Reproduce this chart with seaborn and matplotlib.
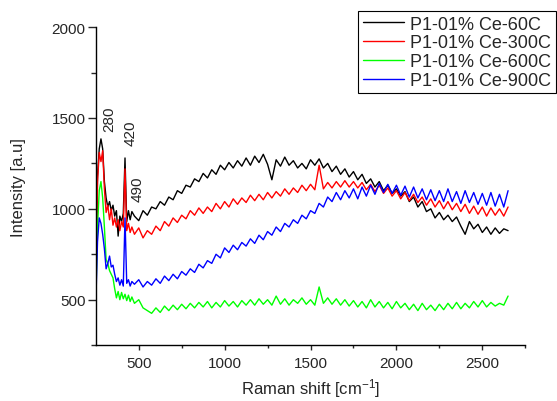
import matplotlib
matplotlib.use("Agg")
import matplotlib.pyplot as plt
import seaborn as sns
import pandas as pd

# Raman shift grid (cm-1): finer near the low-wavenumber peaks
shift = [250, 260, 270, 280, 290, 300, 310, 320, 330, 340, 350,
         360, 370, 380, 390, 400, 410, 420, 430, 440, 450, 460,
         475, 500, 525, 550, 575, 600, 625, 650,
         675, 700, 725, 750, 775, 800, 825, 850,
         875, 900, 925, 950, 975, 1000, 1025, 1050,
         1075, 1100, 1125, 1150, 1175, 1200, 1225, 1250,
         1275, 1300, 1325, 1350, 1375, 1400, 1425, 1450,
         1475, 1500, 1525, 1550, 1575, 1600, 1625, 1650,
         1675, 1700, 1725, 1750, 1775, 1800, 1825, 1850,
         1875, 1900, 1925, 1950, 1975, 2000, 2025, 2050,
         2075, 2100, 2125, 2150, 2175, 2200, 2225, 2250,
         2275, 2300, 2325, 2350, 2375, 2400, 2425, 2450,
         2475, 2500, 2525, 2550, 2575, 2600, 2625, 2650]

ce_60 = [560, 1180, 1330, 1385, 1330, 1150, 1060, 1010, 1040, 990, 1020,
         960, 990, 850, 960, 930, 975, 1280, 930, 990, 940, 985,
         960, 935, 990, 965, 1010, 1000, 1040, 1020,
         1065, 1050, 1100, 1085, 1130, 1120, 1165, 1150,
         1195, 1170, 1215, 1190, 1240, 1215, 1255, 1225,
         1265, 1235, 1280, 1240, 1290, 1255, 1300, 1245,
         1160, 1270, 1235, 1285, 1240, 1265, 1225, 1250,
         1220, 1270, 1240, 1275, 1225, 1250, 1205, 1235,
         1190, 1220, 1175, 1205, 1160, 1190, 1140, 1165,
         1120, 1150, 1100, 1130, 1085, 1110, 1070, 1095,
         1040, 1065, 1010, 1040, 985, 1000, 950, 980,
         940, 965, 930, 955, 905, 860, 930, 890,
         915, 870, 900, 860, 895, 865, 890, 880]

ce_300 = [540, 1150, 1310, 1260, 1320, 1110, 980, 1020, 940, 1000, 910,
          950, 900, 940, 880, 930, 900, 1220, 880, 920, 870, 900,
          860, 895, 840, 880, 860, 905, 880, 930,
          905, 950, 925, 965, 945, 990, 965, 1005,
          975, 1010, 985, 1030, 1000, 1040, 1010, 1055,
          1025, 1060, 1035, 1075, 1045, 1080, 1050, 1090,
          1060, 1095, 1070, 1110, 1080, 1115, 1090, 1130,
          1100, 1135, 1105, 1240, 1110, 1145, 1115, 1150,
          1120, 1155, 1120, 1150, 1115, 1145, 1105, 1135,
          1095, 1130, 1085, 1115, 1070, 1100, 1055, 1090,
          1045, 1080, 1035, 1065, 1020, 1055, 1010, 1045,
          1000, 1040, 995, 1030, 985, 1025, 975, 1015,
          970, 1010, 960, 1005, 965, 1000, 960, 1010]

ce_600 = [500, 900, 1100, 1150, 1060, 900, 720, 700, 660, 640, 620,
          560, 510, 545, 500, 540, 505, 530, 495, 525, 490, 515,
          480, 500, 455, 440, 425, 455, 430, 465,
          440, 470, 445, 475, 450, 480, 455, 485,
          460, 490, 455, 485, 460, 495, 465, 490,
          460, 495, 470, 500, 470, 505, 475, 500,
          470, 520, 475, 505, 470, 500, 480, 510,
          475, 500, 470, 570, 480, 510, 475, 505,
          470, 500, 465, 495, 460, 490, 455, 500,
          460, 490, 455, 485, 450, 490, 455, 480,
          445, 475, 440, 480, 445, 470, 440, 475,
          445, 480, 450, 485, 450, 480, 455, 490,
          460, 495, 460, 485, 465, 480, 470, 520]

ce_900 = [480, 820, 950, 920, 860, 780, 670, 700, 740, 680, 690,
          640, 600, 620, 580, 610, 575, 950, 590, 610, 575, 600,
          585, 610, 570, 600, 580, 615, 590, 630,
          605, 640, 615, 655, 635, 670, 650, 695,
          675, 715, 700, 750, 730, 785, 760, 800,
          775, 815, 795, 835, 810, 855, 830, 875,
          855, 900, 875, 920, 900, 940, 920, 965,
          945, 990, 975, 1030, 1010, 1065, 1040, 1090,
          1050, 1100, 1060, 1110, 1055, 1120, 1070, 1130,
          1080, 1140, 1090, 1135, 1085, 1130, 1075, 1125,
          1065, 1120, 1060, 1110, 1050, 1105, 1045, 1100,
          1040, 1110, 1040, 1095, 1030, 1100, 1035, 1090,
          1025, 1085, 1020, 1090, 1015, 1080, 1010, 1100]

labels = ["P1-01% Ce-60C", "P1-01% Ce-300C", "P1-01% Ce-600C", "P1-01% Ce-900C"]
colors = ["#000000", "#ff0000", "#00ff00", "#0000ff"]
peak_labels = ["280", "420", "490"]
peak_pos = [(331, 1500), (453, 1423), (494, 1113)]

sns.set_style("ticks")
plt.rcParams["font.family"] = ["Liberation Sans", "DejaVu Sans"]
plt.rcParams["mathtext.default"] = "regular"

fig = plt.figure(figsize=(5.57, 4.02), dpi=100)
ax = fig.add_axes([0.172, 0.139, 0.771, 0.791])

for vals, lab, col in zip([ce_60, ce_300, ce_600, ce_900], labels, colors):
    df = pd.DataFrame({"shift": shift, "intensity": vals})
    sns.lineplot(data=df, x="shift", y="intensity", color=col, lw=1.0,
                 label=lab, estimator=None, ax=ax)

for txt, (px, py) in zip(peak_labels, peak_pos):
    ax.text(px, py, txt, rotation=90, ha="center", va="center", fontsize=11)

ax.set_xlim(250, 2750)
ax.set_ylim(250, 2000)
ax.set_xticks([500, 1000, 1500, 2000, 2500])
ax.set_xticks([750, 1250, 1750, 2250, 2750], minor=True)
ax.set_yticks([500, 1000, 1500, 2000])
ax.set_yticks([250, 750, 1250, 1750], minor=True)
ax.tick_params(axis="both", labelsize=11, width=1, direction="out")
ax.tick_params(axis="y", which="major", length=5.5, pad=2)
ax.tick_params(axis="y", which="minor", length=3.5, width=1)
ax.tick_params(axis="x", which="major", length=3.5, pad=4)
ax.tick_params(axis="x", which="minor", length=2, width=1)
for s in ["left", "bottom"]:
    ax.spines[s].set_linewidth(1)
    ax.spines[s].set_color("black")
sns.despine(ax=ax)

ax.set_xlabel("Raman shift [cm$^{-1}$]", fontsize=12, labelpad=5)
ax.set_ylabel("Intensity [a.u]", fontsize=12, labelpad=18)

leg = ax.legend(loc="upper left", bbox_to_anchor=(358 / 557, 1 - 12 / 402),
                bbox_transform=fig.transFigure, borderaxespad=0,
                fontsize=13, frameon=True, fancybox=False, framealpha=1,
                edgecolor="black", handlelength=2.3, handletextpad=0.35,
                labelspacing=0.1, borderpad=0.25)
leg.get_frame().set_linewidth(0.8)

fig.savefig("out.png", dpi=100)
